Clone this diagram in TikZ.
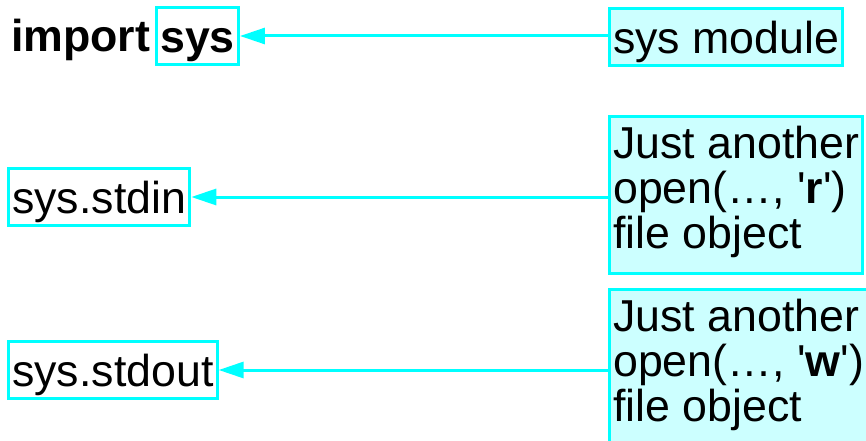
\documentclass[tikz,border=0pt]{standalone}
\usepackage{fontspec}
\setmainfont{Liberation Sans}
\usetikzlibrary{arrows.meta}
\definecolor{cy}{HTML}{00FFFF}
\definecolor{cyfill}{HTML}{CCFFFF}
\newcommand{\bigtext}{\fontsize{44.7}{45}\selectfont}
\begin{document}
\begin{tikzpicture}[x=1pt,y=-1pt,
  every node/.style={font=\bigtext},
  lbl/.style={draw=cy, line width=3pt, inner xsep=3.7pt, inner ysep=7pt,
              text height=38pt, text depth=5pt, anchor=north west},
  note/.style={lbl, fill=cyfill},
  tall/.style={draw=cy, fill=cyfill, line width=3pt, inner xsep=3.7pt,
               inner ysep=0pt, align=left, anchor=north west},
  arr/.style={draw=cy, line width=3pt, -{Triangle[length=25pt,width=16pt]}}]
\useasboundingbox (0,0) rectangle (866,441);
\clip (0,0) rectangle (866,441);
\node[anchor=base west, inner sep=0pt, font=\bigtext\bfseries] (imp) at (11,52) {import};
\node[lbl, font=\bigtext\bfseries] (sys) at (155,6) {sys};
\node[note] (mod) at (608,7) {sys module};
\node[lbl] (stdin) at (7,167) {sys.stdin};
\node[lbl] (stdout) at (7,340) {sys.stdout};
\node[tall] (fr) at (608,115) {\rule{0pt}{42pt}Just another\\open(…, \textquotesingle\textbf{r}\textquotesingle)\\file object\rule[-25pt]{0pt}{25pt}};
\node[tall] (fw) at (608,288) {\rule{0pt}{42pt}Just another\\open(…, \textquotesingle\textbf{w}\textquotesingle)\\file object\rule[-25pt]{0pt}{25pt}};
\draw[arr] (mod.west |- sys.east) -- (sys.east);
\draw[arr] (fr.west |- stdin.east) -- (stdin.east);
\draw[arr] (fw.west |- stdout.east) -- (stdout.east);
\end{tikzpicture}
\end{document}
